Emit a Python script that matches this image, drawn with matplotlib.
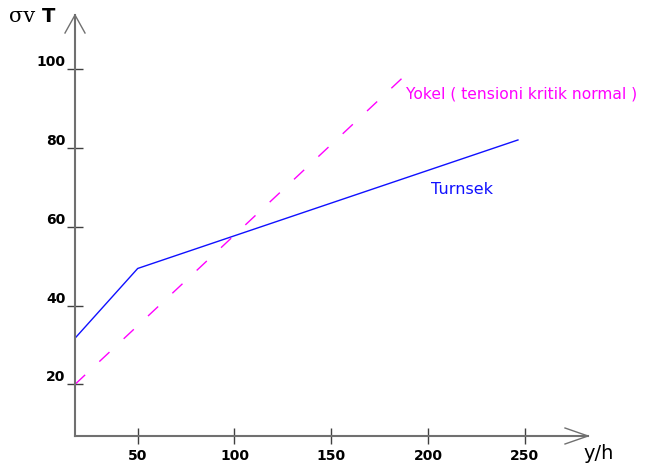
import numpy as np
import matplotlib.pyplot as plt

# data
turnsek_x = [17.6, 50, 246.5]
turnsek_y = [31.7, 49.4, 82.0]
yokel_x = [17.6, 191.7]
yokel_y = [20.0, 100.0]

xticks = [50, 100, 150, 200, 250]
yticks = [20, 40, 60, 80, 100]

grey = "#707070"

fig = plt.figure(figsize=(6.45, 4.65), dpi=100)
ax = fig.add_axes([75 / 645, (465 - 436) / 465, 513 / 645, 421 / 465])
ax.set_xlim(17.6, 282.7)
ax.set_ylim(6.9, 113.7)

for s in ["top", "right"]:
    ax.spines[s].set_visible(False)
for s in ["left", "bottom"]:
    ax.spines[s].set_color(grey)
    ax.spines[s].set_linewidth(1.5)

ax.set_xticks(xticks)
ax.set_yticks(yticks)
ax.set_xticklabels([str(v) for v in xticks], fontweight="bold", fontsize=10)
ax.set_yticklabels([str(v) for v in yticks], fontweight="bold", fontsize=10)
ax.tick_params(axis="both", direction="inout", length=12, width=1, color="#404040")
ax.tick_params(axis="y", pad=1)
ax.tick_params(axis="x", pad=3)
for lab in ax.get_yticklabels():
    lab.set_verticalalignment("bottom")

# open arrow heads (axes fraction)
ax.plot([1 - 23 / 513, 1, 1 - 23 / 513], [8 / 421, 0, -8 / 421],
        transform=ax.transAxes, color=grey, lw=1, clip_on=False)
ax.plot([-10 / 513, 0, 10 / 513], [1 - 18 / 421, 1, 1 - 18 / 421],
        transform=ax.transAxes, color=grey, lw=1, clip_on=False)

ax.plot(turnsek_x, turnsek_y, color="#1010ff", lw=1)
ax.plot(yokel_x, yokel_y, color="#ff00ff", lw=1, dashes=(10, 14))

fig.text(406 / 645, 1 - 94 / 465, "Yokel ( tensioni kritik normal )", color="#ff00ff",
         fontsize=11.2, va="center")
fig.text(431 / 645, 1 - 189 / 465, "Turnsek", color="#1010ff", fontsize=11.5, va="center")
fig.text(583 / 645, 1 - 453 / 465, "y/h", fontsize=14, va="center")
fig.text(9 / 645, 1 - 17 / 465, "σv", family="DejaVu Serif", fontsize=15, va="center")
fig.text(42 / 645, 1 - 16 / 465, "T", fontweight="bold", fontsize=14, va="center")

fig.savefig("out.png", dpi=100)
